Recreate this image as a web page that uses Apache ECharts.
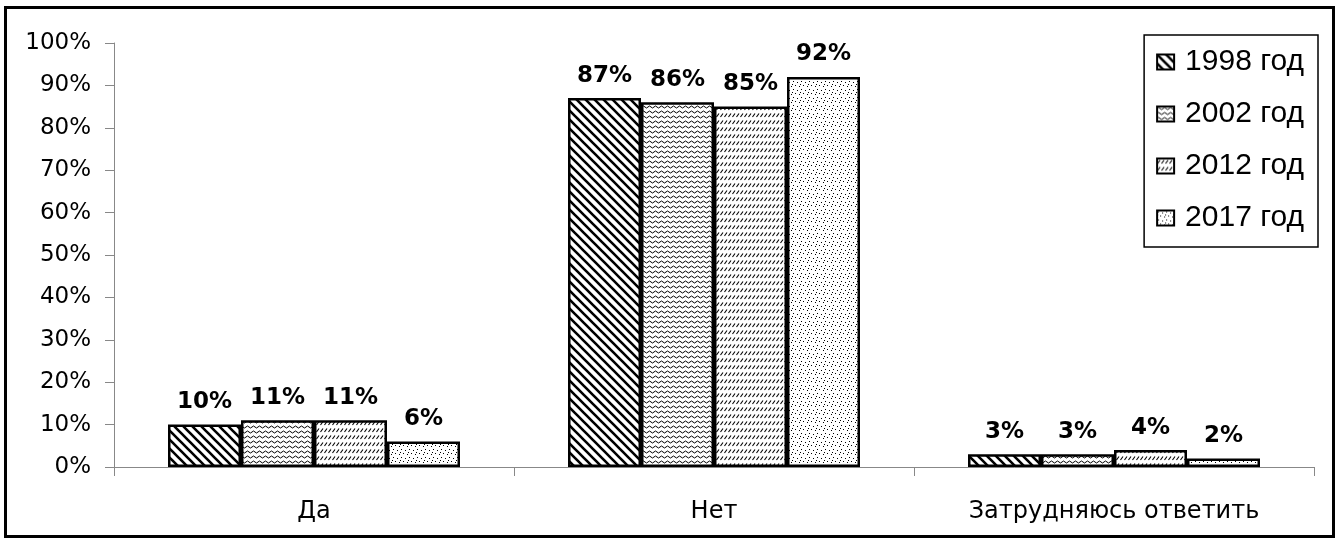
<!DOCTYPE html>
<html><head><meta charset="utf-8">
<script src="https://cdn.jsdelivr.net/npm/echarts@6/dist/echarts.min.js"></script>
<style>html,body{margin:0;padding:0;background:#fff}#c{width:1340px;height:543px}</style>
</head><body><div id="c"></div>
<script>
const categories = ['Да', 'Нет', 'Затрудняюсь ответить'];
const seriesNames = ['1998 год', '2002 год', '2012 год', '2017 год'];
const v1998 = [10, 87, 3];
const v2002 = [11, 86, 3];
const v2012 = [11, 85, 4];
const v2017 = [6, 92, 2];
const yTicks = [0,10,20,30,40,50,60,70,80,90,100];

function mk(w,h,draw){const c=document.createElement('canvas');c.width=w;c.height=h;const g=c.getContext('2d');g.fillStyle='#fff';g.fillRect(0,0,w,h);g.fillStyle='#000';g.strokeStyle='#000';draw(g);return c;}
const pDiag = mk(9,9,g=>{g.lineWidth=2.6;g.beginPath();for(let k=-9;k<=9;k+=9){g.moveTo(k-2,-2);g.lineTo(k+11,11);}g.stroke();});
const pWave = mk(6,5,g=>{g.lineWidth=1;g.beginPath();g.moveTo(0,2);g.quadraticCurveTo(1.5,0,3,2);g.quadraticCurveTo(4.5,4,6,2);g.stroke();});
const pDash = mk(4,7,g=>{g.lineWidth=1.1;g.beginPath();g.moveTo(0.5,5);g.lineTo(3,1.5);g.stroke();});
const pDot = mk(8,8,g=>{g.fillRect(1,1,1,1);g.fillRect(5,2,1,1);g.fillRect(3,5,1,1);g.fillRect(7,6,1,1);g.fillRect(0,4,1,1);});
const pats=[pDiag,pWave,pDash,pDot];
const vals=[v1998,v2002,v2012,v2017];
const F='DejaVu Sans, Liberation Sans, sans-serif';

const chart = echarts.init(document.getElementById('c'));
chart.setOption({
  animation:false,
  textStyle:{fontFamily:F},
  graphic:[{type:'rect',shape:{x:5.5,y:7.5,width:1328,height:529},style:{fill:'none',stroke:'#000',lineWidth:3},z:-1}],
  grid:{left:114,right:26,top:43,bottom:76},
  legend:{
    orient:'vertical', right:22, top:35,
    padding:[12,14,14,12], itemGap:22, itemWidth:17, itemHeight:15,
    borderColor:'#000', borderWidth:1.5, backgroundColor:'#fff',
    textStyle:{fontSize:30,fontFamily:'Liberation Sans, Arial, sans-serif',lineHeight:30,color:'#000',padding:[0,0,0,6]},
    data: seriesNames.map((n,i)=>({name:n,icon:'rect',itemStyle:{borderColor:'#000',borderWidth:2}}))
  },
  xAxis:{type:'category',data:categories,
    axisLine:{lineStyle:{color:'#888',width:1}},
    axisTick:{show:true,length:9,lineStyle:{color:'#888'}},
    axisLabel:{fontSize:24,fontFamily:F,color:'#000',margin:33}},
  yAxis:{type:'value',min:0,max:100,interval:10,
    axisLine:{show:true,lineStyle:{color:'#888',width:1}},
    axisTick:{show:true,length:9,lineStyle:{color:'#888'}},
    splitLine:{show:false},
    axisLabel:{fontSize:23,fontFamily:F,color:'#000',margin:23,formatter:v=>yTicks.includes(v)?v+'%':''}},
  series: seriesNames.map((n,i)=>({
    name:n,type:'bar',data:vals[i],barGap:'0%',barCategoryGap:'27%',
    itemStyle:{color:{image:pats[i],repeat:'repeat'},borderColor:'#000',borderWidth:2.5},
    label:{show:true,position:'top',distance:11,fontSize:23,fontFamily:F,fontWeight:'bold',color:'#000',formatter:p=>p.value+'%'}
  }))
});
</script></body></html>
